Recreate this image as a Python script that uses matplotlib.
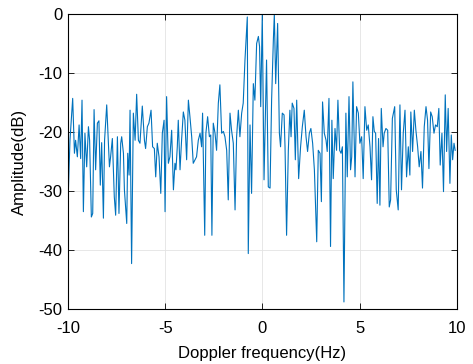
import matplotlib
matplotlib.use("Agg")
import matplotlib.pyplot as plt

freq = [
    -9.98, -9.90, -9.76, -9.67, -9.61, -9.52, -9.43, -9.35, -9.28, -9.21,
    -9.13, -9.04, -8.95, -8.89, -8.80, -8.73, -8.66, -8.58, -8.49, -8.41,
    -8.34, -8.27, -8.18, -8.12, -8.01, -7.87, -7.81, -7.72, -7.62, -7.55,
    -7.46, -7.38, -7.29, -7.24, -7.15, -7.10, -6.98, -6.93, -6.86, -6.81,
    -6.73, -6.64, -6.55, -6.47, -6.38, -6.30, -6.18, -6.07, -6.01, -5.92,
    -5.84, -5.73, -5.65, -5.56, -5.49, -5.41, -5.32, -5.23, -5.15, -5.06,
    -5.01, -4.93, -4.84, -4.76, -4.67, -4.58, -4.50, -4.45, -4.38, -4.33,
    -4.24, -4.16, -4.07, -3.99, -3.90, -3.81, -3.73, -3.64, -3.56, -3.47,
    -3.39, -3.30, -3.21, -3.13, -3.08, -2.97, -2.91, -2.82, -2.73, -2.66,
    -2.60, -2.53, -2.44, -2.36, -2.27, -2.19, -2.10, -2.01, -1.93, -1.84,
    -1.76, -1.67, -1.59, -1.50, -1.41, -1.33, -1.24, -1.16, -1.07, -0.99,
    -0.90, -0.78, -0.73, -0.64, -0.56, -0.47, -0.39, -0.30, -0.21, -0.15,
    -0.09, -0.01, 0.08, 0.16, 0.21, 0.30, 0.39, 0.47, 0.56, 0.61,
    0.68, 0.78, 0.87, 0.93, 1.02, 1.11, 1.16, 1.24, 1.33, 1.41,
    1.47, 1.53, 1.62, 1.69, 1.76, 1.86, 1.96, 2.05, 2.15, 2.24,
    2.32, 2.41, 2.49, 2.58, 2.67, 2.79, 2.87, 2.96, 3.03, 3.09,
    3.18, 3.27, 3.33, 3.42, 3.50, 3.57, 3.64, 3.73, 3.81, 3.88,
    3.97, 4.04, 4.11, 4.19, 4.29, 4.36, 4.45, 4.53, 4.59, 4.65,
    4.76, 4.84, 4.93, 5.01, 5.10, 5.18, 5.27, 5.36, 5.44, 5.53,
    5.61, 5.68, 5.75, 5.82, 5.90, 5.97, 6.04, 6.11, 6.20, 6.26,
    6.35, 6.44, 6.52, 6.59, 6.68, 6.80, 6.88, 6.98, 7.07, 7.15,
    7.24, 7.33, 7.41, 7.50, 7.58, 7.63, 7.72, 7.81, 7.89, 7.98,
    8.06, 8.15, 8.23, 8.32, 8.41, 8.49, 8.56, 8.65, 8.73, 8.82,
    8.90, 8.99, 9.07, 9.14, 9.23, 9.31, 9.40, 9.47, 9.55, 9.64,
    9.71, 9.78, 9.85, 9.91,
]

amplitude_db = [
    -29.8, -21.4, -14.3, -23.6, -21.4, -24.2, -18.8, -24.5, -14.6, -33.5,
    -20.2, -25.9, -19.1, -21.4, -34.4, -33.8, -16.2, -26.4, -18.5, -18.1,
    -29.0, -21.8, -34.6, -21.4, -15.4, -25.9, -24.2, -21.1, -31.0, -34.1,
    -20.8, -33.8, -21.9, -20.8, -23.6, -29.8, -35.5, -23.6, -27.3, -16.3,
    -42.3, -16.8, -21.4, -13.6, -21.4, -21.9, -15.6, -21.4, -22.8, -19.1,
    -18.5, -16.3, -22.5, -22.8, -27.6, -21.9, -24.2, -30.4, -20.2, -18.0,
    -33.5, -14.0, -25.3, -24.2, -19.7, -29.8, -25.3, -26.4, -22.5, -18.0,
    -26.4, -21.4, -16.6, -18.0, -24.7, -14.6, -17.4, -20.8, -25.3, -24.7,
    -24.2, -21.4, -20.2, -22.5, -16.8, -37.5, -20.2, -17.4, -20.8, -20.5,
    -37.5, -18.5, -20.2, -23.1, -15.1, -12.0, -20.2, -19.9, -20.8, -23.1,
    -31.5, -16.8, -19.7, -21.9, -33.2, -20.8, -16.3, -20.8, -16.8, -15.1,
    -7.8, -0.5, -40.6, -18.8, -30.4, -11.8, -14.6, -5.0, -3.8, -5.5,
    -15.7, 0.0, -28.1, -15.7, -7.8, -29.3, -29.5, -14.6, -4.4, 0.0,
    -11.8, -1.6, -20.2, -22.5, -16.8, -17.1, -22.5, -37.5, -23.1, -16.3,
    -20.8, -15.1, -16.0, -24.7, -14.6, -27.9, -22.5, -19.1, -16.3, -20.8,
    -23.3, -20.2, -19.4, -21.9, -26.4, -38.6, -23.1, -23.6, -31.8, -14.9,
    -20.2, -21.4, -23.3, -14.3, -39.4, -18.0, -27.9, -19.4, -23.1, -14.6,
    -23.1, -23.6, -22.5, -48.8, -16.8, -27.6, -14.0, -26.4, -24.2, -11.5,
    -27.6, -15.7, -16.8, -21.9, -20.8, -27.9, -15.7, -19.7, -18.8, -22.5,
    -28.1, -17.4, -19.9, -20.2, -32.1, -21.1, -32.4, -16.0, -22.5, -20.2,
    -19.4, -19.7, -32.7, -31.5, -17.7, -15.7, -29.8, -33.2, -15.4, -29.8,
    -20.2, -16.3, -27.6, -22.5, -27.3, -16.6, -23.3, -16.3, -19.7, -22.5,
    -25.9, -23.3, -29.5, -19.1, -15.7, -18.0, -26.2, -16.6, -17.4, -20.2,
    -18.8, -19.1, -16.0, -25.6, -20.2, -30.1, -13.7, -23.3, -16.0, -28.7,
    -20.5, -24.7, -21.9, -23.1,
]

x_ticks = [-10, -5, 0, 5, 10]
y_ticks = [-50, -40, -30, -20, -10, 0]

plt.rcParams['font.family'] = ['Liberation Sans', 'DejaVu Sans']
plt.rcParams['axes.unicode_minus'] = False

fig = plt.figure(figsize=(4.73, 3.64), dpi=100)
ax = fig.add_axes([0.1438, 0.151, 0.8222, 0.8105])
ax.plot(freq, amplitude_db, color='#0072BD', linewidth=0.8)
ax.set_xlim(-10, 10)
ax.set_ylim(-50, 0)
ax.set_xticks(x_ticks)
ax.set_yticks(y_ticks)
ax.grid(True, color='#e3e3e3', linewidth=0.6)
ax.set_axisbelow(True)
ax.tick_params(direction='in', top=True, right=True, labelsize=12, length=4, width=0.6)
ax.tick_params(axis='x', pad=8.5)
ax.tick_params(axis='y', pad=4)
for s in ax.spines.values():
    s.set_linewidth(0.8)
ax.set_xlabel('Doppler frequency(Hz)', fontsize=12, labelpad=7)
ax.set_ylabel('Amplitude(dB)', fontsize=12, labelpad=8)
fig.savefig('out.png', dpi=100)
